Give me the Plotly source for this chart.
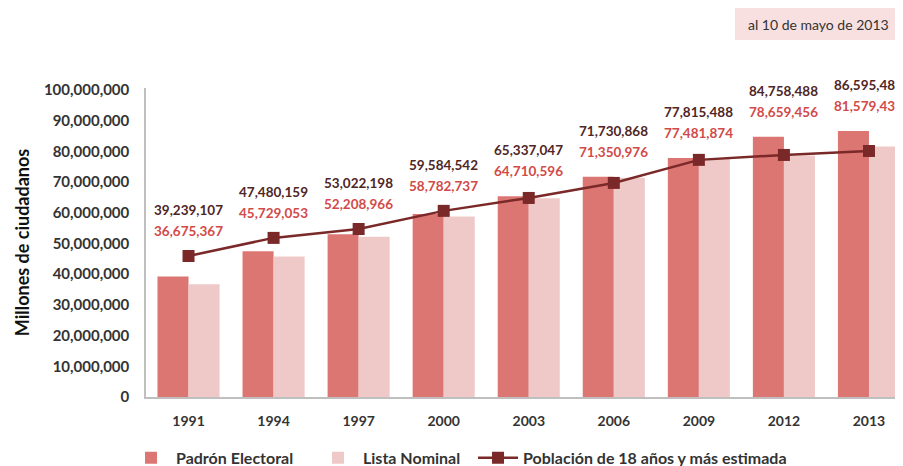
import plotly.graph_objects as go

years = ["1991", "1994", "1997", "2000", "2003", "2006", "2009", "2012", "2013"]
padron = [39239107, 47480159, 53022198, 59584542, 65337047, 71730868, 77815488, 84758488, 86595489]
lista = [36675367, 45729053, 52208966, 58782737, 64710596, 71350976, 77481874, 78659456, 81579435]
poblacion = [45900000, 51800000, 54700000, 60600000, 64800000, 69700000, 77200000, 78800000, 80100000]

FONT = "Lato"
# page body has an 8px margin, so the figure is sized to fit the window from (8, 8)
W, H = 895, 458
ML, MR, MT, MB = 138, 0, 80, 69

fig = go.Figure()
fig.add_trace(go.Bar(
    x=years, y=padron, name="Padrón Electoral", legend="legend",
    marker=dict(color="#dc7673", line=dict(width=0)),
))
fig.add_trace(go.Bar(
    x=years, y=lista, name="Lista Nominal", legend="legend2",
    marker=dict(color="#efc9c7", line=dict(width=0)),
))
fig.add_trace(go.Scatter(
    x=years, y=poblacion, name="Población de 18 años y más estimada", legend="legend3",
    mode="lines+markers",
    line=dict(color="#7a2828", width=2.5),
    marker=dict(symbol="square", size=12, color="#7a2828"),
))

annotations = []
for i, yr in enumerate(years):
    top = max(padron[i], poblacion[i])
    annotations.append(dict(
        x=i, y=top, xref="x", yref="y", yshift=46, yanchor="middle",
        text=f"{padron[i]:,}", showarrow=False,
        font=dict(family=FONT, size=13.5, color="#4f2626", weight="bold"),
    ))
    annotations.append(dict(
        x=i, y=top, xref="x", yref="y", yshift=25, yanchor="middle",
        text=f"{lista[i]:,}", showarrow=False,
        font=dict(family=FONT, size=13.5, color="#d24a48", weight="bold"),
    ))

annotations.append(dict(
    x=0.8878, y=1.207, xref="paper", yref="paper", xanchor="center", yanchor="middle",
    text="al 10 de mayo de 2013", showarrow=False,
    font=dict(family=FONT, size=14, color="#333333"),
))

legend_font = dict(family=FONT, size=16, color="#333333", weight="bold")


def legend_at(xpos):
    return dict(
        orientation="h", x=xpos, y=-0.197, xanchor="left", yanchor="middle",
        font=legend_font, itemwidth=40, bgcolor="rgba(0,0,0,0)",
    )


fig.update_layout(
    width=W, height=H,
    margin=dict(l=ML, r=MR, t=MT, b=MB, autoexpand=False),
    paper_bgcolor="white", plot_bgcolor="white",
    barmode="group", bargap=0.27, bargroupgap=0.0,
    font=dict(family=FONT, color="#333333"),
    annotations=annotations,
    shapes=[dict(
        type="rect", xref="paper", yref="paper",
        x0=0.778, x1=1.0, y0=1.155, y1=1.259,
        fillcolor="#f8e0e0", line=dict(width=0), layer="below",
    )],
    showlegend=True,
    legend=legend_at(-0.0264),
    legend2=legend_at(0.2206),
    legend3=legend_at(0.432),
    xaxis=dict(
        type="category", range=[-0.5, 8.4],
        showline=True, linecolor="#bfbfbf", linewidth=1.5,
        showgrid=False, ticks="", ticklabelstandoff=10,
        tickfont=dict(family=FONT, size=14, color="#333333", weight="bold"),
    ),
    yaxis=dict(
        range=[0, 100600000], tickvals=[i * 10000000 for i in range(11)],
        tickformat=",d", showline=True, linecolor="#bfbfbf", linewidth=1.5,
        showgrid=False, zeroline=False, ticks="", ticklabelstandoff=12,
        tickfont=dict(family=FONT, size=15, color="#333333", weight="bold"),
        title=dict(text="Millones de ciudadanos", standoff=10,
                   font=dict(family=FONT, size=18, color="#111111", weight="bold")),
    ),
)

fig.write_html("out.html")
